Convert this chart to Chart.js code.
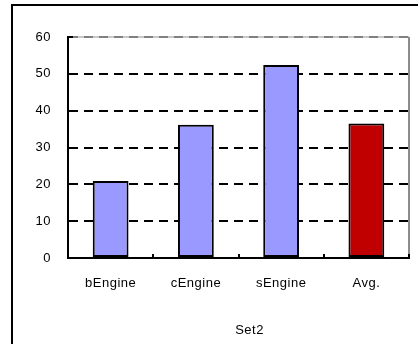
<!DOCTYPE html>
<html>
<head>
<meta charset="utf-8">
<script src="https://cdn.jsdelivr.net/npm/chart.js@4"></script>
<style>
  html, body { margin: 0; padding: 0; background: #fff; overflow: hidden; }
  #wrap { position: relative; width: 418px; height: 344px; overflow: hidden; }
  #frame { position: absolute; left: 11px; top: 4px; width: 600px; height: 600px;
           border-left: 2px solid #000; border-top: 2px solid #000; }
  #c { position: absolute; left: 0; top: 0; }
</style>
</head>
<body>
<div id="wrap">
  <div id="frame"></div>
  <canvas id="c" width="418" height="344"></canvas>
</div>
<script>
// Benchmark results per engine plus their average
const categories = ['bEngine', 'cEngine', 'sEngine', 'Avg.'];
const values = [20.9, 36.2, 52.4, 36.5];
const barColors = ['#9999FF', '#9999FF', '#9999FF', '#C00000'];
const yTicks = [0, 10, 20, 30, 40, 50, 60];
const axisTitle = 'Set2';

const FONT = { family: '"Liberation Sans", Arial, sans-serif', size: 13 };

// Plot frame, inside tick marks, category dividers and the axis caption
const plotDecor = {
  id: 'plotDecor',
  beforeDraw(chart) {
    const { ctx, chartArea: a } = chart;
    ctx.letterSpacing = '0.5px';
    ctx.save();
    ctx.strokeStyle = '#c8c8c8';
    ctx.lineWidth = 2;
    ctx.beginPath();
    ctx.moveTo(a.left, a.top);
    ctx.lineTo(a.right, a.top);
    ctx.stroke();
    ctx.restore();
  },
  afterDatasetsDraw(chart) {
    const { ctx, chartArea: a, scales: { x, y } } = chart;
    ctx.save();
    ctx.strokeStyle = '#8c8c8c';
    ctx.lineWidth = 2;
    ctx.beginPath();
    ctx.moveTo(a.right, a.top);
    ctx.lineTo(a.right, a.bottom);
    ctx.stroke();

    ctx.strokeStyle = '#000';
    yTicks.forEach(v => {
      const py = Math.round(y.getPixelForValue(v));
      ctx.beginPath();
      ctx.moveTo(a.left - 1, py);
      ctx.lineTo(a.left + 5, py);
      ctx.stroke();
    });
    for (let i = 1; i <= categories.length; i++) {
      const px = i < categories.length
        ? Math.round((x.getPixelForValue(i - 1) + x.getPixelForValue(i)) / 2)
        : a.right;
      ctx.beginPath();
      ctx.moveTo(px, a.bottom);
      ctx.lineTo(px, a.bottom - 4);
      ctx.stroke();
    }

    ctx.fillStyle = '#000';
    ctx.font = '13px "Liberation Sans", Arial, sans-serif';
    ctx.textAlign = 'center';
    ctx.textBaseline = 'middle';
    ctx.fillText(axisTitle, (a.left + a.right) / 2 + 11, a.bottom + 72);
    ctx.restore();
  }
};

new Chart(document.getElementById('c'), {
  type: 'bar',
  data: {
    labels: categories,
    datasets: [{
      data: values,
      backgroundColor: barColors,
      borderColor: '#000',
      borderWidth: 2,
      borderSkipped: false,
      categoryPercentage: 1,
      barPercentage: 0.42
    }]
  },
  options: {
    responsive: false,
    animation: false,
    devicePixelRatio: 1,
    layout: { padding: { left: 0, right: 9, top: 37, bottom: 0 } },
    plugins: { legend: { display: false }, tooltip: { enabled: false } },
    scales: {
      x: {
        grid: { display: false, drawTicks: false },
        border: { display: true, color: '#000', width: 2 },
        ticks: { color: '#000', font: FONT, padding: 18, maxRotation: 0 },
        afterFit(s) { s.height = 86; }
      },
      y: {
        min: 0,
        max: 60,
        grid: {
          drawTicks: false,
          lineWidth: 2,
          color: ctx => ctx.tick.value === 60 ? '#808080' : (ctx.tick.value === 0 ? 'rgba(0,0,0,0)' : '#000')
        },
        border: { display: true, color: '#000', width: 2, dash: [9, 6] },
        ticks: { stepSize: 10, color: '#000', font: FONT, padding: 17 },
        afterFit(s) { s.width = 68; }
      }
    }
  },
  plugins: [plotDecor]
});
</script>
</body>
</html>
